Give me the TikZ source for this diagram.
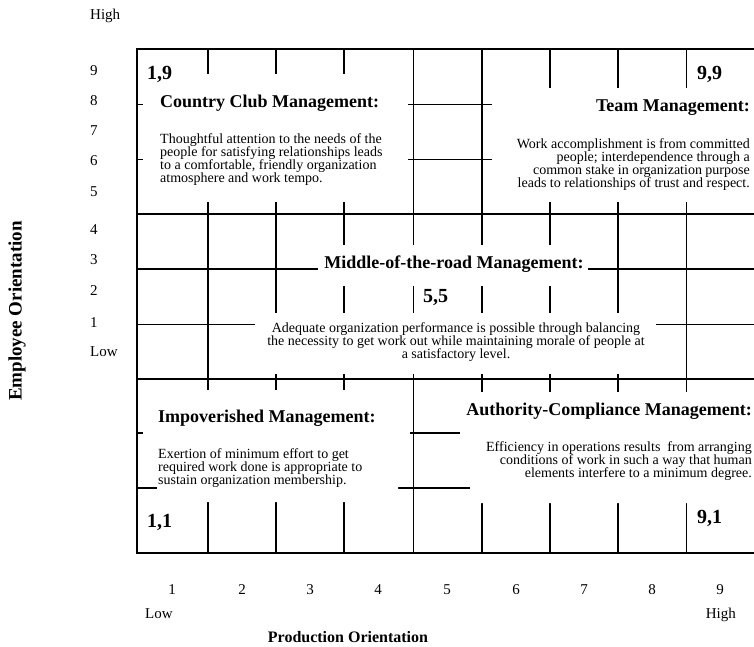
\documentclass[tikz,border=0pt]{standalone}
\usepackage{fontspec}
\setmainfont{Liberation Serif}
\begin{document}
\begin{tikzpicture}[x=1pt,y=-1pt,
  thickline/.style={line width=1.7pt},
  thinline/.style={line width=0.9pt},
  mask/.style={fill=white,draw=none},
  ttl/.style={font=\fontsize{18}{20}\selectfont\bfseries, inner sep=0pt},
  desc/.style={font=\fontsize{14}{13}\selectfont, inner sep=0pt},
  corner/.style={font=\fontsize{20}{22}\selectfont\bfseries, inner sep=0pt},
  axislbl/.style={font=\fontsize{15}{17}\selectfont, inner sep=0pt},
  axisttl/.style={font=\fontsize{16}{18}\selectfont\bfseries, inner sep=0pt}]
\useasboundingbox (0,0) rectangle (754,647);
% grid
\foreach \x in {208,276,344,482,550,618} \draw[thickline] (\x,49) -- (\x,553);
\foreach \x in {413,686} \draw[thinline] (\x,49) -- (\x,553);
\foreach \y in {214,269,379,433,488} \draw[thickline] (137,\y) -- (754,\y);
\foreach \y in {104,159,324} \draw[thinline] (137,\y) -- (754,\y);
\draw[thickline] (754,49) -- (137,49) -- (137,553) -- (754,553);
% masks
\fill[mask] (143,74) rectangle (408,202);
\fill[mask] (492,88) rectangle (760,202);
\fill[mask] (318,245) rectangle (588,286);
\fill[mask] (255,313) rectangle (656,374);
\fill[mask] (143,390) rectangle (410,486);
\fill[mask, rounded corners=6pt] (157,470) rectangle (398,502);
\fill[mask] (460,392) rectangle (760,486);
\fill[mask, rounded corners=6pt] (470,470) rectangle (760,503);
% corner labels
\node[corner, anchor=base west] (c19) at (147,80) {1,9};
\node[corner, anchor=base west] (c99) at (697,80) {9,9};
\node[corner, anchor=base west] (c55) at (423,302) {5,5};
\node[corner, anchor=base west] (c11) at (147,527) {1,1};
\node[corner, anchor=base west] (c91) at (697,523) {9,1};
% country club
\node[ttl, anchor=base west] (cct) at (160,108) {Country Club Management:};
\node[desc, anchor=north west, align=left] (ccd) at (160,133.5) {Thoughtful attention to the needs of the\\people for satisfying relationships leads\\to a comfortable, friendly organization\\atmosphere and work tempo.};
% team
\node[ttl, anchor=base east] (tmt) at (750,112) {Team Management:};
\node[desc, anchor=north east, align=right] (tmd) at (750,138.5) {Work accomplishment is from committed\\people; interdependence through a\\common stake in organization purpose\\leads to relationships of trust and respect.};
% middle
\node[ttl, anchor=base] (mdt) at (454,268) {Middle-of-the-road Management:};
\node[desc, anchor=north, align=center] (mdd) at (456,322.5) {Adequate organization performance is possible through balancing\\the necessity to get work out while maintaining morale of people at\\a satisfactory level.};
% impoverished
\node[ttl, anchor=base west] (imt) at (158,422) {Impoverished Management:};
\node[desc, anchor=north west, align=left] (imd) at (158,448.5) {Exertion of minimum effort to get\\required work done is appropriate to\\sustain organization membership.};
% authority
\node[ttl, anchor=base east] (act) at (752,415) {Authority-Compliance Management:};
\node[desc, anchor=north east, align=right] (acd) at (752,441.5) {Efficiency in operations results\ \ from arranging\\conditions of work in such a way that human\\elements interfere to a minimum degree.};
% left axis
\node[axislbl, anchor=base west] (yhi) at (90,20) {High};
\foreach \t/\y in {9/76,8/106,7/136,6/166,5/196,4/234,3/264,2/295,1/327}
  \node[axislbl, anchor=base west] (y\t) at (90,\y) {\t};
\node[axislbl, anchor=base west] (ylo) at (90,356) {Low};
\node[axisttl, font=\fontsize{19}{21}\selectfont\bfseries, rotate=90] (ytitle) at (17,311) {Employee Orientation};
% bottom axis
\foreach \t/\x in {1/172,2/242,3/310,4/378,5/447,6/516,7/584,8/652,9/720}
  \node[axislbl, anchor=base] (x\t) at (\x,594) {\t};
\node[axislbl, anchor=base west] (xlo) at (145,618) {Low};
\node[axislbl, anchor=base east] (xhi) at (736,618) {High};
\node[axisttl, anchor=base] (xtitle) at (348,642) {Production Orientation};
\end{tikzpicture}
\end{document}
